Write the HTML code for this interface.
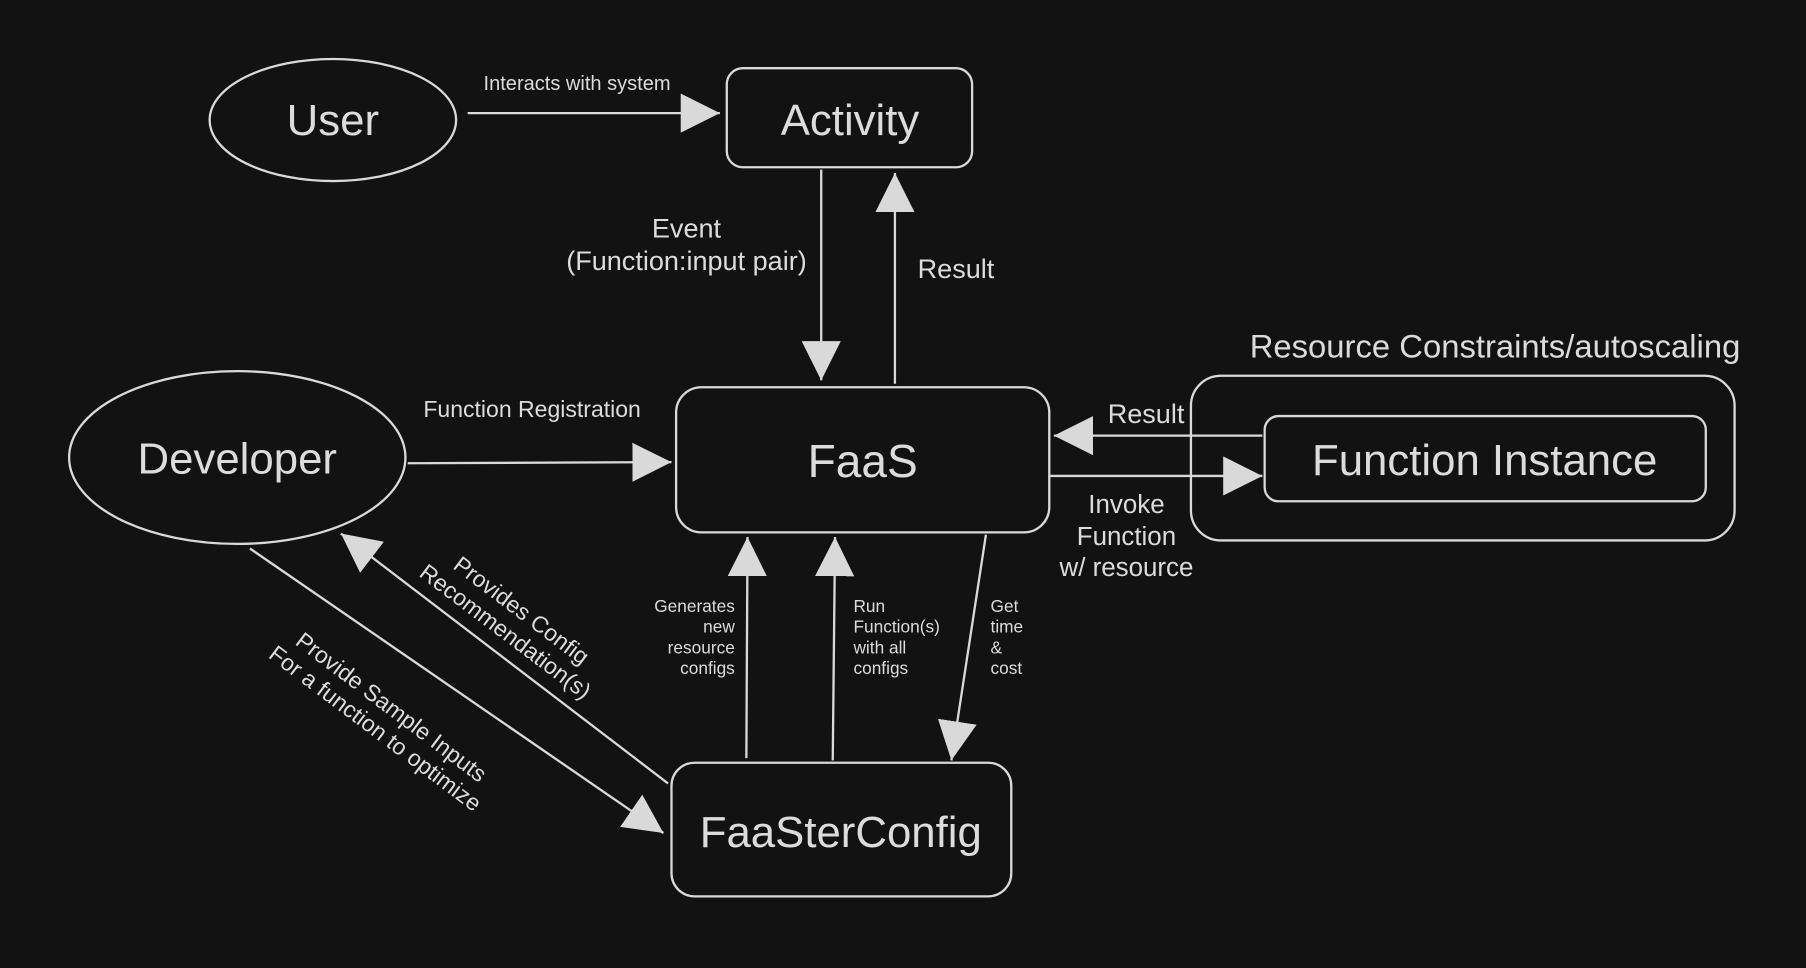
<!DOCTYPE html>
<html><head><meta charset="utf-8"><style>
html,body{margin:0;padding:0;background:#121212;}
svg{display:block;}
text{font-family:"Liberation Sans",sans-serif;fill:#dcdcdc;}
</style></head><body>
<svg width="1806" height="968" viewBox="0 0 1568 840" xmlns="http://www.w3.org/2000/svg">
<defs>
<marker id="a" markerUnits="userSpaceOnUse" markerWidth="36" markerHeight="34" refX="34" refY="17" orient="auto">
<path d="M0,0 L34,17 L0,34 Z" fill="#d9d9d9"/>
</marker>
</defs>
<rect width="1568" height="840" fill="#121212"/>
<g fill="none" stroke="#d9d9d9" stroke-width="2">
<ellipse cx="289" cy="104" rx="107" ry="53"/>
<rect x="631" y="59" width="213" height="86" rx="14"/>
<rect x="587" y="336" width="324" height="126" rx="22"/>
<ellipse cx="206" cy="397" rx="146" ry="75"/>
<rect x="1034" y="326" width="472" height="143" rx="26"/>
<rect x="1098" y="361" width="383" height="74" rx="12"/>
<rect x="583" y="662" width="295" height="116" rx="20"/>
<g marker-end="url(#a)">
<line x1="406" y1="98" x2="625" y2="98"/>
<line x1="713" y1="147" x2="713" y2="330"/>
<line x1="777" y1="333" x2="777" y2="150"/>
<line x1="354" y1="402" x2="583" y2="401"/>
<line x1="1096" y1="378" x2="915" y2="378"/>
<line x1="912" y1="413" x2="1096" y2="413"/>
<line x1="648" y1="658" x2="649" y2="466"/>
<line x1="723" y1="660" x2="725" y2="466"/>
<line x1="856" y1="464" x2="826" y2="660"/>
<line x1="217" y1="476" x2="576" y2="723"/>
<line x1="580" y1="680" x2="296" y2="463"/>
</g>
</g>
<g text-anchor="middle">
<text x="289" y="117" font-size="38">User</text>
<text x="738" y="117" font-size="38">Activity</text>
<text x="749" y="414" font-size="40">FaaS</text>
<text x="206" y="411" font-size="38">Developer</text>
<text x="1289" y="412" font-size="38">Function Instance</text>
<text x="730" y="735" font-size="38">FaaSterConfig</text>
<text x="501" y="78" font-size="17.4">Interacts with system</text>
<text x="596" y="206" font-size="23.5">Event</text>
<text x="596" y="234" font-size="23.5">(Function:input pair)</text>
<text x="830" y="241" font-size="23.5">Result</text>
<text x="462" y="362" font-size="20">Function Registration</text>
<text x="1298" y="310" font-size="28.5">Resource Constraints/autoscaling</text>
<text x="995" y="367" font-size="23.5">Result</text>
<text x="978" y="445" font-size="22.5">Invoke</text>
<text x="978" y="473" font-size="22.5">Function</text>
<text x="978" y="500" font-size="22.5">w/ resource</text>
</g>
<g text-anchor="end" font-size="15">
<text x="638" y="531">Generates</text>
<text x="638" y="549">new</text>
<text x="638" y="567">resource</text>
<text x="638" y="585">configs</text>
</g>
<g font-size="15">
<text x="741" y="531">Run</text>
<text x="741" y="549">Function(s)</text>
<text x="741" y="567">with all</text>
<text x="741" y="585">configs</text>
<text x="860" y="531">Get</text>
<text x="860" y="549">time</text>
<text x="860" y="567">&amp;</text>
<text x="860" y="585">cost</text>
</g>
<g text-anchor="middle" font-size="20">
<g transform="translate(445,540) rotate(37)">
<text x="0" y="-6">Provides Config</text>
<text x="0" y="17">Recommendation(s)</text>
</g>
<g transform="translate(332,624) rotate(37)">
<text x="0" y="-6">Provide Sample Inputs</text>
<text x="0" y="17">For a function to optimize</text>
</g>
</g>
</svg>
</body></html>
